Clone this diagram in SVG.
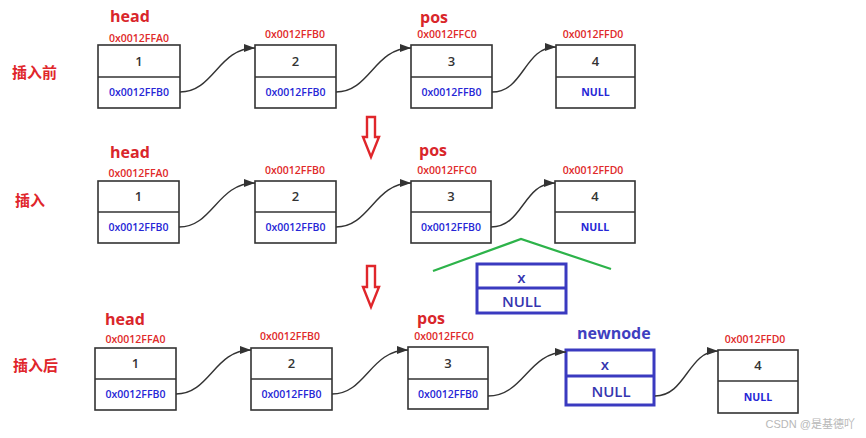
<svg xmlns="http://www.w3.org/2000/svg" width="866" height="438" viewBox="0 0 866 438">
<defs>
<style>
.box{fill:#fff;stroke:#333;stroke-width:1.6}
.div{stroke:#333;stroke-width:1.6}
.nbox{fill:#fff;stroke:#3a3ac0;stroke-width:3}
.ndiv{stroke:#3a3ac0;stroke-width:3}
.num{font-family:"Open Sans","Liberation Sans",sans-serif;font-size:13px;font-weight:600;fill:#333;text-anchor:middle}
.ptr{font-family:"Open Sans","Liberation Sans",sans-serif;font-size:10.5px;font-weight:600;fill:#2626d6;text-anchor:middle}
.nul{font-family:"Open Sans","Liberation Sans",sans-serif;font-size:10.5px;font-weight:bold;fill:#2626d6;text-anchor:middle}
.addr{font-family:"Open Sans","Liberation Sans",sans-serif;font-size:10.5px;font-weight:600;fill:#e02a2a;text-anchor:middle}
.lbl{font-family:"Open Sans","Liberation Sans",sans-serif;font-size:16px;font-weight:bold;fill:#d9262b}
.side{font-family:"Noto Sans CJK SC",sans-serif;font-size:15px;font-weight:bold;fill:#e0262b}
.big{font-family:"Open Sans","Liberation Sans",sans-serif;font-size:15px;font-weight:600;fill:#3535b0;text-anchor:middle}
.conn{fill:none;stroke:#333;stroke-width:1.4}
.down{fill:#fff;stroke:#e0262b;stroke-width:2.4;stroke-linejoin:miter}
</style>
<marker id="ah" markerWidth="11" markerHeight="8" refX="11" refY="4" orient="auto" markerUnits="userSpaceOnUse">
<path d="M0,0 L11,4 L0,8 Z" fill="#333"/>
</marker>
</defs>
<rect width="866" height="438" fill="#fff"/>

<!-- side labels -->
<text class="side" x="12" y="78">插入前</text>
<text class="side" x="15" y="206">插入</text>
<text class="side" x="13" y="371">插入后</text>

<!-- down arrows -->
<path class="down" d="M367,117 L375,117 L375,137 L379,137 L371,157 L363,137 L367,137 Z"/>
<path class="down" d="M367,266 L375,266 L375,287 L379,287 L371,307 L363,287 L367,287 Z"/>

<!-- Row 1 -->
<text class="lbl" x="110" y="22">head</text>
<text class="lbl" x="420" y="23">pos</text>
<g id="r1n1">
<text class="addr" x="139" y="42">0x0012FFA0</text>
<rect class="box" x="98" y="45" width="82" height="63"/>
<line class="div" x1="98" y1="77" x2="180" y2="77"/>
<text class="num" x="139" y="66">1</text>
<text class="ptr" x="139" y="96">0x0012FFB0</text>
</g>
<g id="r1n2">
<text class="addr" x="295" y="38">0x0012FFB0</text>
<rect class="box" x="255" y="45" width="81" height="63"/>
<line class="div" x1="255" y1="77" x2="336" y2="77"/>
<text class="num" x="295.5" y="66">2</text>
<text class="ptr" x="295.5" y="96">0x0012FFB0</text>
</g>
<g id="r1n3">
<text class="addr" x="447" y="38">0x0012FFC0</text>
<rect class="box" x="411" y="45" width="81" height="63"/>
<line class="div" x1="411" y1="77" x2="492" y2="77"/>
<text class="num" x="451.5" y="66">3</text>
<text class="ptr" x="451.5" y="96">0x0012FFB0</text>
</g>
<g id="r1n4">
<text class="addr" x="593" y="38">0x0012FFD0</text>
<rect class="box" x="556" y="45" width="79" height="63"/>
<line class="div" x1="556" y1="77" x2="635" y2="77"/>
<text class="num" x="595.5" y="66">4</text>
<text class="nul" x="595.5" y="96">NULL</text>
</g>

<!-- Row 2 -->
<text class="lbl" x="110" y="158">head</text>
<text class="lbl" x="419" y="156">pos</text>
<g id="r2n1">
<text class="addr" x="138.5" y="177">0x0012FFA0</text>
<rect class="box" x="98" y="181" width="81" height="62"/>
<line class="div" x1="98" y1="212" x2="179" y2="212"/>
<text class="num" x="138.5" y="201">1</text>
<text class="ptr" x="138.5" y="231">0x0012FFB0</text>
</g>
<g id="r2n2">
<text class="addr" x="295" y="174">0x0012FFB0</text>
<rect class="box" x="255" y="181" width="81" height="62"/>
<line class="div" x1="255" y1="212" x2="336" y2="212"/>
<text class="num" x="295.5" y="201">2</text>
<text class="ptr" x="295.5" y="231">0x0012FFB0</text>
</g>
<g id="r2n3">
<text class="addr" x="447" y="174">0x0012FFC0</text>
<rect class="box" x="411" y="181" width="80" height="62"/>
<line class="div" x1="411" y1="212" x2="491" y2="212"/>
<text class="num" x="451" y="201">3</text>
<text class="ptr" x="451" y="231">0x0012FFB0</text>
</g>
<g id="r2n4">
<text class="addr" x="593" y="174">0x0012FFD0</text>
<rect class="box" x="555" y="181" width="80" height="62"/>
<line class="div" x1="555" y1="212" x2="635" y2="212"/>
<text class="num" x="595" y="201">4</text>
<text class="nul" x="595" y="231">NULL</text>
</g>
<g id="insert-roof">
<polyline points="433,271 521,239 611,269" fill="none" stroke="#2db34a" stroke-width="2.2"/>
</g>
<g id="floatnode">
<rect class="nbox" x="477" y="264" width="89" height="49"/>
<line class="ndiv" x1="477" y1="288" x2="566" y2="288"/>
<text class="big" x="521.5" y="283">x</text>
<text class="big" x="521.5" y="307">NULL</text>
</g>

<!-- Row 3 -->
<text class="lbl" x="105" y="325">head</text>
<text class="lbl" x="417" y="324">pos</text>
<text class="lbl" x="577" y="339" style="fill:#3f3fc0">newnode</text>
<g id="r3n1">
<text class="addr" x="135.5" y="343">0x0012FFA0</text>
<rect class="box" x="95" y="348" width="81" height="62"/>
<line class="div" x1="95" y1="379" x2="176" y2="379"/>
<text class="num" x="135.5" y="368">1</text>
<text class="ptr" x="135.5" y="398">0x0012FFB0</text>
</g>
<g id="r3n2">
<text class="addr" x="290" y="340">0x0012FFB0</text>
<rect class="box" x="251" y="348" width="81" height="62"/>
<line class="div" x1="251" y1="379" x2="332" y2="379"/>
<text class="num" x="291.5" y="368">2</text>
<text class="ptr" x="291.5" y="398">0x0012FFB0</text>
</g>
<g id="r3n3">
<text class="addr" x="444" y="340">0x0012FFC0</text>
<rect class="box" x="408" y="347" width="80" height="62"/>
<line class="div" x1="408" y1="379" x2="488" y2="379"/>
<text class="num" x="448" y="368">3</text>
<text class="ptr" x="448" y="398">0x0012FFB0</text>
</g>
<g id="newnode">
<rect class="nbox" x="566" y="350" width="88" height="55"/>
<line class="ndiv" x1="566" y1="376" x2="654" y2="376"/>
<text class="big" x="605" y="370">x</text>
<text class="big" x="611" y="397">NULL</text>
</g>
<g id="r3n4">
<text class="addr" x="755" y="343">0x0012FFD0</text>
<rect class="box" x="718" y="350" width="80" height="63"/>
<line class="div" x1="718" y1="381" x2="798" y2="381"/>
<text class="num" x="758" y="370">4</text>
<text class="nul" x="758" y="401">NULL</text>
</g>

<!-- connectors -->
<g id="connectors">
<path class="conn" marker-end="url(#ah)" d="M180,92 C214,92 218,48 255,48"/>
<path class="conn" marker-end="url(#ah)" d="M336,92 C370,92 374,48 411,48"/>
<path class="conn" marker-end="url(#ah)" d="M492,92 C524,92 524,47 556,47"/>
<path class="conn" marker-end="url(#ah)" d="M179,227 C213,227 217,183 255,183"/>
<path class="conn" marker-end="url(#ah)" d="M336,227 C370,227 374,183 411,183"/>
<path class="conn" marker-end="url(#ah)" d="M491,227 C523,227 523,183 555,183"/>
<path class="conn" marker-end="url(#ah)" d="M176,394 C210,394 214,350 251,350"/>
<path class="conn" marker-end="url(#ah)" d="M332,394 C366,394 370,350 408,350"/>
<path class="conn" marker-end="url(#ah)" d="M488,396 C524,396 528,352 566,352"/>
<path class="conn" marker-end="url(#ah)" d="M655,396 C686,396 688,351 718,351"/>
</g>

<text x="855" y="428" text-anchor="end" font-family="'Liberation Sans','Noto Sans CJK SC',sans-serif" font-size="11" fill="#b8b8b8">CSDN @是基德吖</text>
</svg>
